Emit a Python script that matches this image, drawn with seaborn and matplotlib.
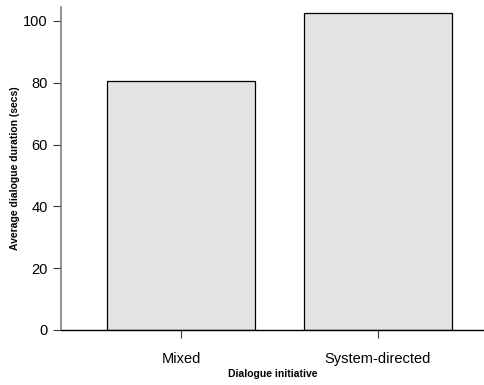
import matplotlib
matplotlib.use("Agg")
import matplotlib.pyplot as plt
import seaborn as sns
import pandas as pd

categories = ["Mixed", "System-directed"]
durations = [80.4, 102.6]
y_ticks = [0, 20, 40, 60, 80, 100]

sns.set_style("ticks")
plt.rcParams['font.family'] = ['Liberation Sans', 'DejaVu Sans']
plt.rcParams['text.color'] = 'black'
plt.rcParams['axes.labelcolor'] = 'black'
plt.rcParams['xtick.color'] = 'black'
plt.rcParams['ytick.color'] = 'black'

df = pd.DataFrame({"initiative": categories, "duration": durations})

fig = plt.figure(figsize=(4.85, 3.85), dpi=100)
ax = fig.add_axes([0.1258, 0.1429, 0.874, 0.839])
sns.barplot(data=df, x="initiative", y="duration", color="#e3e3e3",
            edgecolor="black", linewidth=0.9, width=0.75, saturation=1, ax=ax)

ax.set_xlim(-0.61, 1.543)
ax.set_ylim(0, 104.5)
ax.set_yticks(y_ticks)
ax.set_xlabel("Dialogue initiative", fontsize=7.5, fontweight="bold", labelpad=2, color="black")
ax.set_ylabel("Average dialogue duration (secs)", fontsize=7.5, fontweight="bold", labelpad=2, color="black")
ax.tick_params(axis="both", labelsize=10.5, length=6, width=0.8, direction="out",
               color="#333333", labelcolor="black")
ax.tick_params(axis="x", pad=10)
sns.despine(ax=ax)
ax.spines["left"].set_color("#808080")
ax.spines["left"].set_linewidth(1.2)
ax.spines["bottom"].set_color("black")
ax.spines["bottom"].set_linewidth(1.0)

fig.savefig("out.png", dpi=100)
